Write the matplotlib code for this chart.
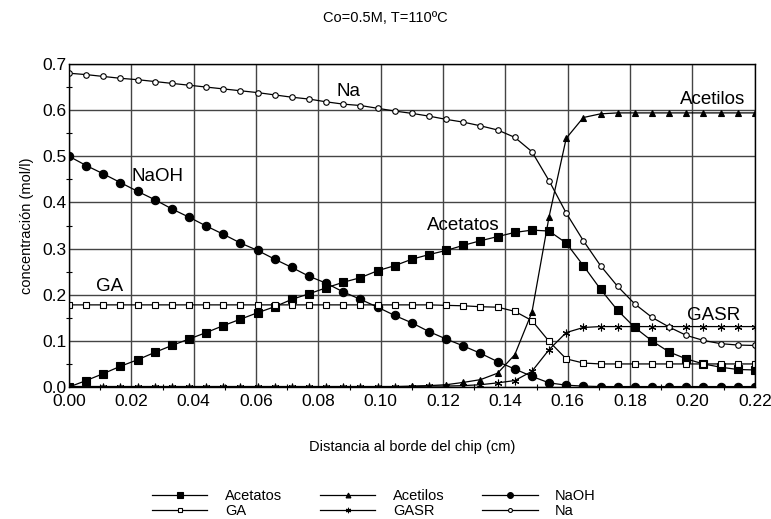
import matplotlib
matplotlib.use('Agg')
import matplotlib.pyplot as plt
from matplotlib.ticker import MultipleLocator
import numpy as np

plt.rcParams['font.family'] = ['Liberation Sans', 'DejaVu Sans']

# 41 puntos equiespaciados entre 0 y 0.22 cm
distancia = np.round(np.arange(41) * 0.0055, 4)

acetatos = [0.000, 0.014, 0.029, 0.045, 0.059, 0.075, 0.090, 0.104, 0.118, 0.133,
            0.147, 0.161, 0.174, 0.190, 0.202, 0.215, 0.227, 0.237, 0.252, 0.263,
            0.277, 0.287, 0.296, 0.307, 0.317, 0.326, 0.335, 0.340, 0.338, 0.312,
            0.263, 0.212, 0.166, 0.129, 0.100, 0.076, 0.061, 0.050, 0.043, 0.038,
            0.037]
acetilos = [0.001, 0.001, 0.001, 0.001, 0.001, 0.001, 0.001, 0.001, 0.001, 0.001,
            0.001, 0.001, 0.001, 0.001, 0.001, 0.001, 0.001, 0.001, 0.001, 0.001,
            0.002, 0.003, 0.005, 0.010, 0.016, 0.030, 0.070, 0.162, 0.369, 0.539,
            0.584, 0.592, 0.594, 0.594, 0.594, 0.594, 0.594, 0.594, 0.594, 0.594,
            0.594]
naoh = [0.500, 0.480, 0.462, 0.443, 0.424, 0.406, 0.386, 0.368, 0.349, 0.331,
        0.312, 0.296, 0.277, 0.259, 0.240, 0.225, 0.206, 0.190, 0.173, 0.155,
        0.139, 0.120, 0.104, 0.089, 0.073, 0.055, 0.039, 0.023, 0.009, 0.004,
        0.002, 0.001, 0.001, 0.001, 0.001, 0.001, 0.001, 0.001, 0.001, 0.001,
        0.001]
ga = [0.178, 0.178, 0.178, 0.178, 0.178, 0.178, 0.178, 0.178, 0.178, 0.178,
      0.178, 0.178, 0.178, 0.178, 0.178, 0.178, 0.178, 0.178, 0.178, 0.178,
      0.178, 0.178, 0.177, 0.176, 0.174, 0.173, 0.164, 0.144, 0.099, 0.061,
      0.052, 0.050, 0.050, 0.050, 0.050, 0.050, 0.050, 0.050, 0.050, 0.050,
      0.050]
gasr = [0.001, 0.001, 0.001, 0.001, 0.001, 0.001, 0.001, 0.001, 0.001, 0.001,
        0.001, 0.001, 0.001, 0.001, 0.001, 0.001, 0.001, 0.001, 0.001, 0.001,
        0.001, 0.002, 0.002, 0.003, 0.005, 0.009, 0.014, 0.034, 0.081, 0.118,
        0.129, 0.131, 0.131, 0.131, 0.131, 0.131, 0.131, 0.131, 0.131, 0.131,
        0.131]
na = [0.680, 0.677, 0.673, 0.669, 0.666, 0.662, 0.658, 0.654, 0.650, 0.646,
      0.642, 0.638, 0.633, 0.628, 0.624, 0.618, 0.613, 0.610, 0.604, 0.598,
      0.593, 0.587, 0.580, 0.574, 0.566, 0.557, 0.541, 0.510, 0.447, 0.377,
      0.317, 0.263, 0.218, 0.180, 0.151, 0.130, 0.112, 0.101, 0.094, 0.091,
      0.090]

series = [
    ('Acetatos', acetatos, dict(marker='s', markersize=5.5, mfc='black')),
    ('Acetilos', acetilos, dict(marker='^', markersize=5, mfc='black')),
    ('NaOH', naoh, dict(marker='o', markersize=6, mfc='black')),
    ('GA', ga, dict(marker='s', markersize=4.5, mfc='white')),
    ('GASR', gasr, dict(marker=(6, 2, 0), markersize=5.5, mfc='black')),
    ('Na', na, dict(marker='o', markersize=4, mfc='white')),
]

# etiquetas dentro del grafico: (texto, x, y)
etiquetas = [('Na', 0.0897, 0.640), ('NaOH', 0.0284, 0.456), ('GA', 0.0131, 0.217),
             ('Acetatos', 0.1266, 0.351), ('Acetilos', 0.2063, 0.623),
             ('GASR', 0.2068, 0.156)]

fig = plt.figure(figsize=(7.71, 5.19), dpi=100)
ax = fig.add_axes([0.0895, 0.2543, 0.8895, 0.6224])

handles = []
for nombre, valores, estilo in series:
    h, = ax.plot(distancia, valores, color='black', linewidth=0.9,
                 mec='black', mew=0.8, label=nombre, **estilo)
    handles.append(h)

for texto, x, y in etiquetas:
    ax.text(x, y, texto, fontsize=13.5, ha='center', va='center')

ax.set_xlim(0, 0.22)
ax.set_ylim(0, 0.7)
ax.xaxis.set_major_locator(MultipleLocator(0.02))
ax.xaxis.set_minor_locator(MultipleLocator(0.01))
ax.yaxis.set_major_locator(MultipleLocator(0.1))
ax.yaxis.set_minor_locator(MultipleLocator(0.05))
ax.xaxis.set_major_formatter(plt.FormatStrFormatter('%.2f'))
ax.yaxis.set_major_formatter(plt.FormatStrFormatter('%.1f'))
ax.tick_params(which='major', direction='in', length=0, labelsize=12.5, pad=2)
ax.tick_params(axis='x', which='major', pad=5)
ax.tick_params(which='minor', direction='inout', length=5, width=0.8)
ax.grid(True, which='major', color='#444444', linewidth=1.0)
for s in ax.spines.values():
    s.set_linewidth(1.0)

ax.set_xlabel('Distancia al borde del chip (cm)', fontsize=10.5, labelpad=22)
ax.set_ylabel('concentración (mol/l)', fontsize=10.5, labelpad=6)
fig.text(0.5, 0.965, 'Co=0.5M, T=110ºC', fontsize=10.5, ha='center', va='center')

# leyenda en dos filas y tres columnas
orden = [handles[0], handles[3], handles[1], handles[4], handles[2], handles[5]]
leg = fig.legend(handles=orden, labels=[h.get_label() for h in orden], ncol=3,
                 loc='center', bbox_to_anchor=(0.485, 0.030), frameon=False,
                 fontsize=10.5, handlelength=3.8, markerscale=0.7,
                 columnspacing=2.6, labelspacing=0.1, handletextpad=1.2)

fig.savefig('out.png', dpi=100)
